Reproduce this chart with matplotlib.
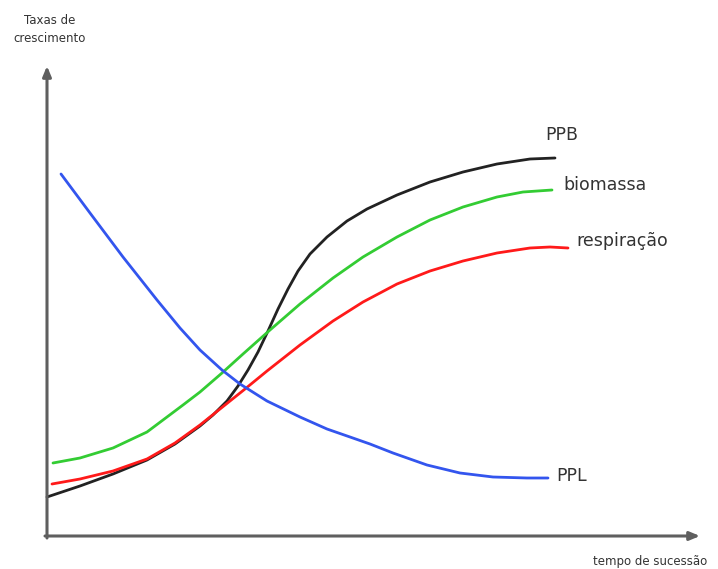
import matplotlib.pyplot as plt

# curves (x = time, y = rate; pixel-like units, y grows downward)
ppb_x = [47, 80, 113, 147, 175, 200, 213, 227, 238, 248, 258, 268, 278, 288, 298, 310, 327, 347, 367, 397, 430, 463, 497, 530, 555]
ppb_y = [497, 486, 474, 460, 444, 426, 415, 401, 386, 370, 352, 331, 309, 289, 271, 254, 237, 221, 209, 195, 182, 172, 164, 159, 158]

bio_x = [53, 80, 113, 147, 183, 200, 222, 243, 270, 300, 333, 363, 397, 430, 463, 497, 523, 552]
bio_y = [463, 458, 448, 432, 405, 392, 373, 354, 330, 304, 278, 257, 237, 220, 207, 197, 192, 190]

resp_x = [52, 80, 113, 147, 175, 200, 220, 245, 267, 300, 333, 363, 397, 430, 463, 497, 530, 550, 568]
resp_y = [484, 479, 471, 459, 443, 425, 409, 389, 371, 345, 321, 302, 284, 271, 261, 253, 248, 247, 248]

ppl_x = [61, 90, 123, 157, 180, 200, 222, 240, 267, 300, 327, 350, 370, 393, 427, 460, 493, 527, 548]
ppl_y = [174, 213, 257, 300, 328, 350, 370, 384, 401, 417, 429, 437, 444, 453, 465, 473, 477, 478, 478]

labels = ["PPB", "biomassa", "respiração", "PPL"]
label_pos = [(545, 135), (563, 185), (576, 241), (556, 476)]

fig = plt.figure(figsize=(7.18, 5.69), dpi=100)
ax = fig.add_axes([0, 0, 1, 1])
ax.set_xlim(0, 718)
ax.set_ylim(569, 0)
ax.axis("off")

axis_col = "#5f5f5f"
# axes with arrow heads
ax.annotate("", xy=(47, 66), xytext=(47, 538),
            arrowprops=dict(arrowstyle="-|>,head_width=0.25,head_length=0.6", color=axis_col, lw=2.2, shrinkA=0, shrinkB=0))
ax.annotate("", xy=(700, 536), xytext=(45, 536),
            arrowprops=dict(arrowstyle="-|>,head_width=0.25,head_length=0.6", color=axis_col, lw=2.2, shrinkA=0, shrinkB=0))

line_kw = dict(lw=2, solid_joinstyle="round", solid_capstyle="round")
ax.plot(ppb_x, ppb_y, color="#222222", **line_kw)
ax.plot(bio_x, bio_y, color="#33cc33", **line_kw)
ax.plot(resp_x, resp_y, color="#ff1a1a", **line_kw)
ax.plot(ppl_x, ppl_y, color="#3355ee", **line_kw)

for text, (tx, ty) in zip(labels, label_pos):
    ax.text(tx, ty, text, fontsize=12.5, color="#333333", va="center", ha="left")

ax.text(50, 29, "Taxas de\ncrescimento", fontsize=8.5, color="#333333",
        ha="center", va="center", linespacing=1.5)
ax.text(650, 562, "tempo de sucessão", fontsize=8.5, color="#333333",
        ha="center", va="center")

fig.savefig("out.png", dpi=100)
